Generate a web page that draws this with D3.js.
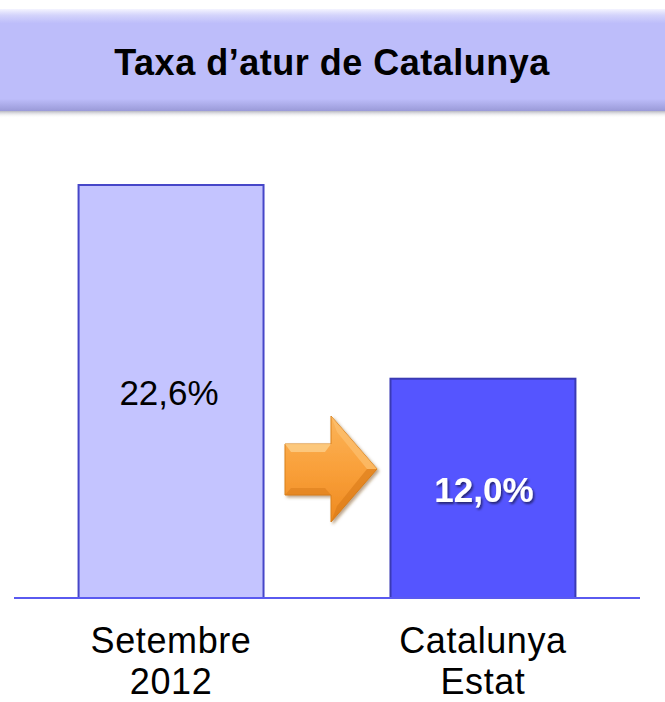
<!DOCTYPE html>
<html><head><meta charset="utf-8">
<script src="https://cdn.jsdelivr.net/npm/d3@7"></script>
<style>html,body{margin:0;padding:0;background:#fff;}svg{display:block;}</style>
</head><body>
<script>
const title = "Taxa d\u2019atur de Catalunya";
const categories = ["Setembre 2012", "Catalunya Estat"];
const categoryLines = [["Setembre", "2012"], ["Catalunya", "Estat"]];
const values = [22.6, 12.0];
const valueLabels = ["22,6%", "12,0%"];

const W = 665, H = 702;
const FONT = "'Liberation Sans', Arial, sans-serif";
const svg = d3.select("body").append("svg").attr("width", W).attr("height", H);
const defs = svg.append("defs");

// header gradient
const hg = defs.append("linearGradient").attr("id","hdr").attr("x1",0).attr("y1",0).attr("x2",0).attr("y2",1);
hg.append("stop").attr("offset","0%").attr("stop-color","#f4f4ff");
hg.append("stop").attr("offset","6%").attr("stop-color","#d4d4fb");
hg.append("stop").attr("offset","14%").attr("stop-color","#bdbdfa");
hg.append("stop").attr("offset","88%").attr("stop-color","#bdbdfa");
hg.append("stop").attr("offset","100%").attr("stop-color","#9a9ad8");
const sg = defs.append("linearGradient").attr("id","hdrsh").attr("x1",0).attr("y1",0).attr("x2",0).attr("y2",1);
sg.append("stop").attr("offset","0%").attr("stop-color","#8a8a9a").attr("stop-opacity",0.8);
sg.append("stop").attr("offset","100%").attr("stop-color","#ffffff").attr("stop-opacity",0);

svg.append("rect").attr("x",0).attr("y",110).attr("width",W).attr("height",8).attr("fill","url(#hdrsh)");
svg.append("rect").attr("x",0).attr("y",9).attr("width",W).attr("height",102).attr("fill","url(#hdr)");
svg.append("text").attr("x",332).attr("y",75).attr("text-anchor","middle")
  .attr("font-family",FONT).attr("font-weight","bold").attr("letter-spacing",0.5)
  .attr("font-size",36).attr("fill","#000").text(title);

// scales
const x = d3.scaleBand().domain(categories).range([14,640]).paddingInner(0.407).paddingOuter(0.207);
const y = d3.scaleLinear().domain([0, 22.6]).range([598, 185]);

const fills = ["#c4c4ff", "#5555ff"];
const strokes = ["#4646c8", "#3a3ab4"];

svg.selectAll("rect.bar").data(values).join("rect").attr("class","bar")
  .attr("x",(d,i)=>x(categories[i])).attr("y",d=>y(d))
  .attr("width",x.bandwidth()).attr("height",d=>y(0)-y(d))
  .attr("fill",(d,i)=>fills[i]).attr("stroke",(d,i)=>strokes[i]).attr("stroke-width",2);

// baseline
svg.append("line").attr("x1",14).attr("x2",640).attr("y1",y(0)).attr("y2",y(0))
  .attr("stroke","#5a5af0").attr("stroke-width",2);

// shadow filter for white label
const f = defs.append("filter").attr("id","tsh").attr("x","-20%").attr("y","-20%").attr("width","140%").attr("height","160%");
f.append("feDropShadow").attr("dx",1.5).attr("dy",2).attr("stdDeviation",1.2).attr("flood-color","#000").attr("flood-opacity",0.55);

// value labels
svg.append("text").attr("x",x(categories[0])+x.bandwidth()/2 - 2).attr("y",y(values[0]) + 220)
  .attr("text-anchor","middle").attr("font-family",FONT)
  .attr("font-size",35).attr("fill","#000").text(valueLabels[0]);
svg.append("text").attr("x",x(categories[1])+x.bandwidth()/2 + 1).attr("y",y(values[1]) + 123)
  .attr("text-anchor","middle").attr("font-family",FONT)
  .attr("font-weight","bold").attr("font-size",35).attr("fill","#fff").attr("filter","url(#tsh)")
  .text(valueLabels[1]);

// category labels
categoryLines.forEach((lines,i)=>{
  const t = svg.append("text").attr("text-anchor","middle")
    .attr("font-family",FONT).attr("font-size",36).attr("letter-spacing",0.6).attr("fill","#000");
  lines.forEach((l,j)=>{
    t.append("tspan").attr("x",x(categories[i])+x.bandwidth()/2).attr("y",653 + j*41).text(l);
  });
});

// arrow
const ag = defs.append("linearGradient").attr("id","arr").attr("x1",0).attr("y1",0).attr("x2",0).attr("y2",1);
ag.append("stop").attr("offset","0%").attr("stop-color","#fbb45a");
ag.append("stop").attr("offset","50%").attr("stop-color","#f9a03a");
ag.append("stop").attr("offset","100%").attr("stop-color","#ee8a20");
const af = defs.append("filter").attr("id","ash").attr("x","-20%").attr("y","-20%").attr("width","150%").attr("height","150%");
af.append("feDropShadow").attr("dx",2).attr("dy",2).attr("stdDeviation",1.5).attr("flood-color","#7a4a10").attr("flood-opacity",0.5);
const ax0 = 285, ax1 = 377, ahx = 331, ay0 = 416, ay1 = 522, sy0 = 444, sy1 = 495, amid = 469;
svg.append("path").attr("d",`M${ax0},${sy0} L${ahx},${sy0} L${ahx},${ay0} L${ax1},${amid} L${ahx},${ay1} L${ahx},${sy1} L${ax0},${sy1} Z`)
  .attr("fill","url(#arr)").attr("stroke","#d9801c").attr("stroke-width",1).attr("filter","url(#ash)");
// bevel highlights
svg.append("path").attr("d",`M${ax0},${sy0} L${ahx},${sy0} L${ahx-6},${sy0+8} L${ax0+6},${sy0+8} Z`).attr("fill","#fdd08a").attr("opacity",0.8);
svg.append("path").attr("d",`M${ahx},${ay0} L${ax1},${amid} L${ax1-10},${amid} L${ahx+6},${ay0+16} Z`).attr("fill","#fcc070").attr("opacity",0.7);
svg.append("path").attr("d",`M${ahx},${ay1} L${ax1},${amid} L${ax1-10},${amid} L${ahx+6},${ay1-16} Z`).attr("fill","#d87a18").attr("opacity",0.6);
svg.append("path").attr("d",`M${ax0},${sy1} L${ahx},${sy1} L${ahx-6},${sy1-7} L${ax0+6},${sy1-7} Z`).attr("fill","#d87a18").attr("opacity",0.5);
</script>
</body></html>
